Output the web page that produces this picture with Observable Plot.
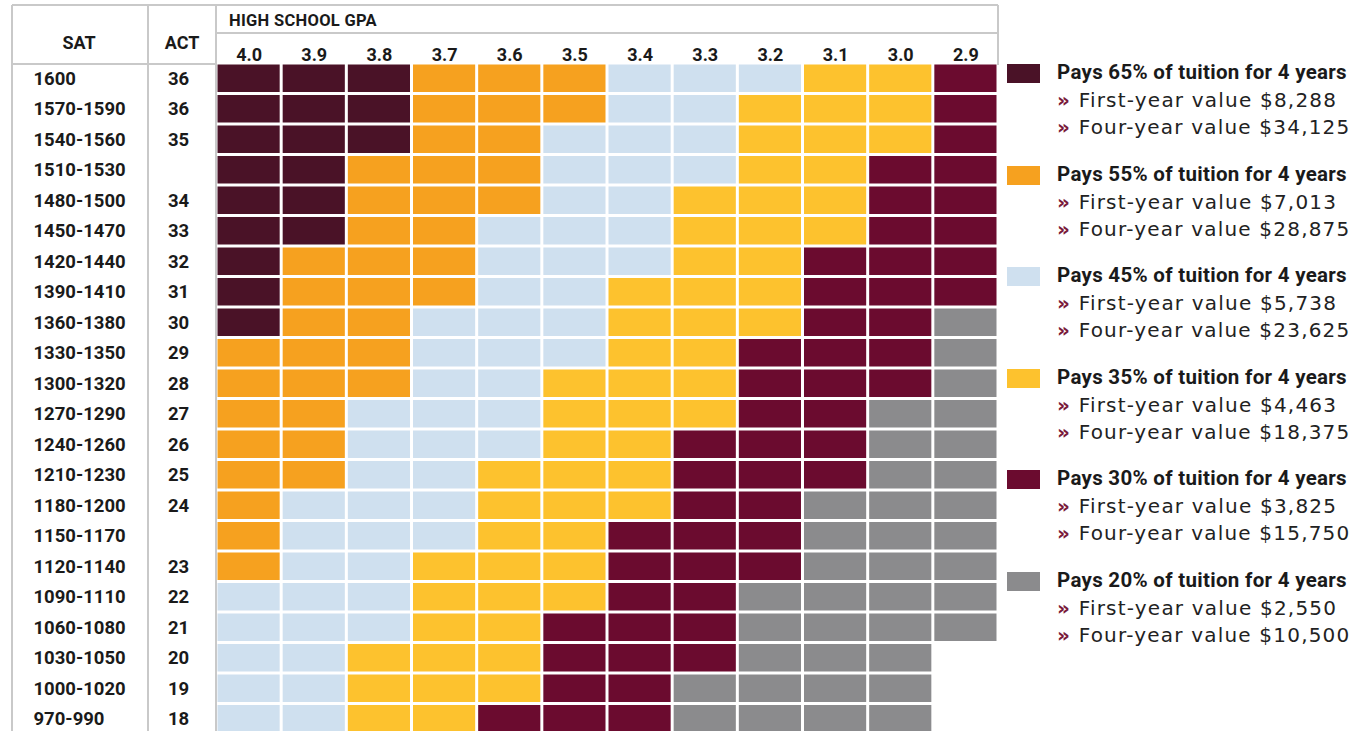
<!DOCTYPE html>
<html>
<head>
<meta charset="utf-8">
<script src="https://cdn.jsdelivr.net/npm/d3@7"></script>
<script src="https://cdn.jsdelivr.net/npm/@observablehq/plot@0.6"></script>
<style>
  html, body { margin: 0; padding: 0; background: #fff; }
  #wrap { position: relative; width: 1367px; height: 731px; overflow: hidden; }
  #chart { position: absolute; left: 0; top: 0; }
  #legend { position: absolute; left: 0; top: 0; }
  .lg-sw { position: absolute; left: 1007px; width: 33px; height: 19px; }
  .lg-title { position: absolute; left: 1057px; font-family: "Roboto", sans-serif; font-weight: 700; font-size: 20.5px; letter-spacing: 0.3px; color: #1a1a1a; white-space: nowrap; line-height: 1; }
  .lg-sub { position: absolute; left: 1057px; font-family: "DejaVu Sans", sans-serif; font-size: 20px; letter-spacing: 1.2px; color: #222; white-space: nowrap; line-height: 1; }
  .lg-sub b { color: #7a1a3a; font-weight: 700; }
</style>
</head>
<body>
<div id="wrap">
  <div id="chart"></div>
  <div id="legend"></div>
</div>
<script>
// ---- data ----
const gpa = ["4.0","3.9","3.8","3.7","3.6","3.5","3.4","3.3","3.2","3.1","3.0","2.9"];
const sat = ["1600","1570-1590","1540-1560","1510-1530","1480-1500","1450-1470","1420-1440","1390-1410","1360-1380","1330-1350","1300-1320","1270-1290","1240-1260","1210-1230","1180-1200","1150-1170","1120-1140","1090-1110","1060-1080","1030-1050","1000-1020","970-990"];
const act = ["36","36","35","","34","33","32","31","30","29","28","27","26","25","24","","23","22","21","20","19","18"];
const tiers = ["65%","55%","45%","35%","30%","20%"];
const tierCodes = ["A","B","C","D","E","F"];
const firstYear = ["$8,288","$7,013","$5,738","$4,463","$3,825","$2,550"];
const fourYear = ["$34,125","$28,875","$23,625","$18,375","$15,750","$10,500"];
const tierColors = ["#4a1227","#f6a11f","#cfe0ef","#fdc22e","#6b0b2f","#8b8b8d"];
// grid of award tier codes: rows follow sat[], columns follow gpa[]; "-" = no award
const grid = [
  "AAABBBCCCDDE",
  "AAABBBCCDDDE",
  "AAABBCCCDDDE",
  "AABBBCCCDDEE",
  "AABBBCCDDDEE",
  "AABBCCCDDDEE",
  "ABBBCCCDDEEE",
  "ABBBCCDDDEEE",
  "ABBCCCDDDEEF",
  "BBBCCCDDEEEF",
  "BBBCCDDDEEEF",
  "BBCCCDDDEEFF",
  "BBCCCDDEEEFF",
  "BBCCDDDEEEFF",
  "BCCCDDDEEFFF",
  "BCCCDDEEEFFF",
  "BCCDDDEEEFFF",
  "CCCDDDEEFFFF",
  "CCCDDEEEFFFF",
  "CCDDDEEEFFF-",
  "CCDDDEEFFFF-",
  "CCDDEEEFFFF-"
];

// ---- build tables ----
const cells = [];
grid.forEach((row, i) => {
  row.split("").forEach((code, j) => {
    const k = tierCodes.indexOf(code);
    if (k >= 0) cells.push({sat: sat[i], gpa: gpa[j], tier: tiers[k]});
  });
});
const rows = sat.map((s, i) => ({sat: s, act: act[i]}));

const font = '"Roboto", sans-serif';
const W = 1000, H = 740, ML = 216, MR = 2, MT = 63, MB = 6;

const chart = Plot.plot({
  width: W, height: H,
  marginLeft: ML, marginRight: MR, marginTop: MT, marginBottom: MB,
  x: {domain: gpa, axis: null, padding: 0, round: false},
  y: {domain: sat, axis: null, padding: 0, round: false},
  color: {domain: tiers, range: tierColors},
  style: {fontFamily: font, background: "transparent", color: "#1a1a1a", overflow: "visible"},
  marks: [
    Plot.cell(cells, {x: "gpa", y: "sat", fill: "tier", inset: 1.5}),
    Plot.text(gpa, {x: d => d, text: d => d, frameAnchor: "top", dy: -15, fontSize: 18, fontWeight: "bold", fill: "#1a1a1a"}),
    Plot.text(rows, {y: "sat", text: "sat", frameAnchor: "left", dx: -183, textAnchor: "start", fontSize: 18.5, fontWeight: "bold", letterSpacing: "-1.2px", fill: "#1a1a1a"}),
    Plot.text(rows, {y: "sat", text: "act", frameAnchor: "left", dx: -38, textAnchor: "middle", fontSize: 18.5, fontWeight: "bold", letterSpacing: "-0.5px", fill: "#1a1a1a"})
  ]
});
document.getElementById("chart").appendChild(chart);

// ---- table frame lines and headers ----
const svg = d3.select(chart);
const lines = svg.insert("g", ":first-child").attr("stroke", "#c9c9c9").attr("stroke-width", 2).attr("fill", "none");
const bottom = H;
lines.append("line").attr("x1", 12).attr("x2", 12).attr("y1", 5).attr("y2", bottom);
lines.append("line").attr("x1", 12).attr("x2", W - MR).attr("y1", 5).attr("y2", 5);
lines.append("line").attr("x1", W - MR).attr("x2", W - MR).attr("y1", 5).attr("y2", MT + 2);
lines.append("line").attr("x1", 148).attr("x2", 148).attr("y1", 5).attr("y2", bottom);
lines.append("line").attr("x1", ML).attr("x2", ML).attr("y1", 5).attr("y2", bottom);
lines.append("line").attr("x1", ML).attr("x2", W - MR).attr("y1", 33).attr("y2", 33);
lines.append("line").attr("x1", 12).attr("x2", ML).attr("y1", MT + 1).attr("y2", MT + 1);

const hdr = svg.append("g").attr("font-family", font).attr("font-weight", "bold").attr("fill", "#1a1a1a");
hdr.append("text").attr("x", 79).attr("y", 43).attr("dy", "0.35em").attr("text-anchor", "middle").attr("font-size", 18).text("SAT");
hdr.append("text").attr("x", 182).attr("y", 43).attr("dy", "0.35em").attr("text-anchor", "middle").attr("font-size", 18).text("ACT");
hdr.append("text").attr("x", 229).attr("y", 20).attr("dy", "0.35em").attr("text-anchor", "start").attr("font-size", 16.5).attr("letter-spacing", "0.3px").text("HIGH SCHOOL GPA");

// ---- legend ----
const legend = d3.select("#legend");
tiers.forEach((t, i) => {
  const y0 = 73 + i * 101.6;
  legend.append("div").attr("class", "lg-sw").style("top", (y0 - 9) + "px").style("background", tierColors[i]);
  legend.append("div").attr("class", "lg-title").style("top", (y0 - 11) + "px").text(`Pays ${t} of tuition for 4 years`);
  legend.append("div").attr("class", "lg-sub").style("top", (y0 + 28 - 11) + "px").html(`<b>»</b> First-year value ${firstYear[i]}`);
  legend.append("div").attr("class", "lg-sub").style("top", (y0 + 55 - 11) + "px").html(`<b>»</b> Four-year value ${fourYear[i]}`);
});
</script>
</body>
</html>
